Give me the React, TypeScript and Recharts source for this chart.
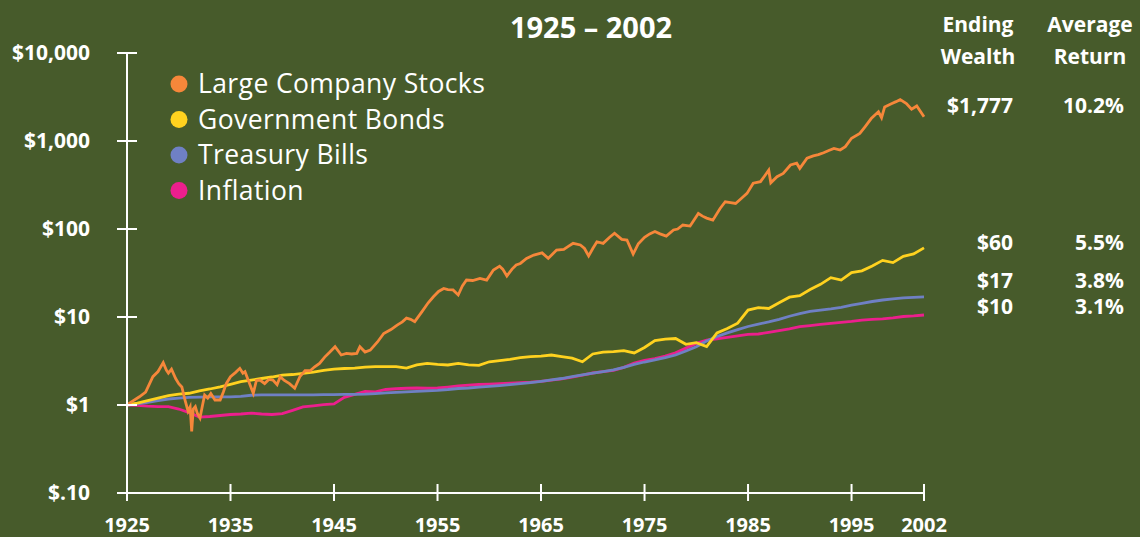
import { LineChart, Line, XAxis, YAxis } from "recharts";

const seriesNames = ["Large Company Stocks", "Government Bonds", "Treasury Bills", "Inflation"];
const seriesColors = ["#f6873a", "#ffd21f", "#6f80c4", "#ec1f8d"];
const endingWealth = ["$1,777", "$60", "$17", "$10"];
const averageReturn = ["10.2%", "5.5%", "3.8%", "3.1%"];

const xTicks = [1925, 1935, 1945, 1955, 1965, 1975, 1985, 1995, 2002];
const yTicks = [0.1, 1, 10, 100, 1000, 10000];
const yTickLabels = ["$.10", "$1", "$10", "$100", "$1,000", "$10,000"];

// stocks at irregular points so the swings survive
const stockYears = [
  1925.0, 1925.5, 1926.2, 1926.8, 1927.5, 1928.0, 1928.5, 1928.8, 1929.0, 1929.3,
  1929.7, 1930.0, 1930.3, 1930.6, 1930.9, 1931.1, 1931.25, 1931.4, 1931.6, 1931.8,
  1932.05, 1932.3, 1932.5, 1932.8, 1933.1, 1933.5, 1934.0, 1934.3, 1934.6, 1935.0,
  1935.5, 1935.9, 1936.2, 1936.4, 1936.8, 1937.2, 1937.5, 1937.85, 1938.3, 1938.7,
  1939.1, 1939.5, 1939.8, 1940.2, 1940.7, 1941.2, 1941.7, 1942.2, 1942.7, 1943.1,
  1943.6, 1944.1, 1944.6, 1945.1, 1945.7, 1946.2, 1946.7, 1947.2, 1947.5, 1948.0,
  1948.5, 1949.2, 1949.8, 1950.5, 1951.1, 1951.6, 1952.0, 1952.4, 1952.8, 1953.5,
  1954.1, 1954.6, 1955.1, 1955.6, 1956.0, 1956.5, 1957.0, 1957.4, 1957.8, 1958.4,
  1959.1, 1959.75, 1960.4, 1961.0, 1961.3, 1961.7, 1962.2, 1962.6, 1963.0, 1963.6,
  1964.3, 1965.1, 1965.7, 1966.5, 1967.2, 1967.6, 1968.1, 1968.8, 1969.2, 1969.6,
  1970.0, 1970.4, 1971.0, 1971.6, 1972.1, 1972.8, 1973.3, 1973.9, 1974.4, 1975.0,
  1975.5, 1976.0, 1976.5, 1977.1, 1977.8, 1978.2, 1978.7, 1979.4, 1980.2, 1980.6,
  1981.0, 1981.6, 1982.3, 1982.8, 1983.3, 1983.8, 1984.4, 1984.9, 1985.5, 1986.2,
  1986.6, 1987.0, 1987.2, 1987.8, 1988.4, 1989.1, 1989.7, 1990.0, 1990.7, 1991.3,
  1991.8, 1992.3, 1992.8, 1993.3, 1993.9, 1994.4, 1995.0, 1995.8, 1996.3, 1996.9,
  1997.6, 1997.9, 1998.2, 1998.9, 1999.3, 1999.7, 2000.3, 2000.8, 2001.3, 2002.0,
];
const stockValues = [
  1.0, 1.1, 1.24, 1.4, 2.1, 2.4, 3.03, 2.5, 2.3, 2.55,
  2.0, 1.75, 1.6, 1.14, 0.85, 0.95, 0.5, 0.9, 0.96, 0.8,
  0.71, 1.0, 1.3, 1.2, 1.35, 1.14, 1.14, 1.4, 1.76, 2.1,
  2.35, 2.61, 2.3, 2.39, 1.8, 1.36, 1.9, 1.92, 1.75, 1.95,
  1.92, 1.7, 2.1, 1.9, 1.75, 1.55, 2.1, 2.45, 2.45, 2.7,
  2.97, 3.5, 4.0, 4.6, 3.7, 3.85, 3.8, 3.86, 4.6, 4.0,
  4.2, 5.2, 6.5, 7.2, 8.1, 8.8, 9.7, 9.4, 8.85, 11.5,
  14.5, 17.0, 19.5, 21.1, 20.5, 20.3, 17.8, 22.5, 26.3, 26.0,
  27.5, 26.3, 34.2, 37.8, 35.0, 29.2, 35.0, 39.0, 40.6, 46.3,
  50.6, 53.5, 46.4, 57.6, 58.7, 63.0, 68.7, 65.8, 60.0, 49.4,
  60.0, 71.6, 68.7, 80.0, 89.5, 76.2, 75.0, 51.9, 68.0, 80.5,
  88.0, 93.5, 88.0, 83.0, 97.5, 100, 111, 108, 150, 140,
  133, 126, 171, 204, 200, 195, 225, 254, 331, 345,
  400, 466, 335, 393, 428, 534, 559, 489, 637, 678,
  700, 735, 780, 822, 790, 863, 1075, 1220, 1450, 1800,
  2150, 1840, 2440, 2670, 2800, 2950, 2670, 2300, 2500, 1890,
];

const years = [
  1925, 1926, 1927, 1928, 1929, 1930, 1931, 1932, 1933, 1934,
  1935, 1936, 1937, 1938, 1939, 1940, 1941, 1942, 1943, 1944,
  1945, 1946, 1947, 1948, 1949, 1950, 1951, 1952, 1953, 1954,
  1955, 1956, 1957, 1958, 1959, 1960, 1961, 1962, 1963, 1964,
  1965, 1966, 1967, 1968, 1969, 1970, 1971, 1972, 1973, 1974,
  1975, 1976, 1977, 1978, 1979, 1980, 1981, 1982, 1983, 1984,
  1985, 1986, 1987, 1988, 1989, 1990, 1991, 1992, 1993, 1994,
  1995, 1996, 1997, 1998, 1999, 2000, 2001, 2002,
];
const bonds = [
  1.0, 1.05, 1.12, 1.2, 1.28, 1.33, 1.36, 1.45, 1.52, 1.61,
  1.72, 1.84, 1.92, 2.0, 2.08, 2.19, 2.22, 2.29, 2.36, 2.48,
  2.55, 2.6, 2.62, 2.7, 2.73, 2.73, 2.73, 2.62, 2.85, 2.97,
  2.9, 2.85, 2.97, 2.85, 2.82, 3.1, 3.2, 3.3, 3.45, 3.55,
  3.6, 3.7, 3.55, 3.4, 3.1, 3.8, 4.0, 4.05, 4.15, 3.9,
  4.5, 5.4, 5.6, 5.7, 4.9, 5.1, 4.6, 6.6, 7.4, 8.5,
  12.0, 12.8, 12.5, 14.5, 16.8, 17.5, 20.5, 23.5, 28.0, 26.3,
  32.0, 33.5, 38.0, 44.0, 41.5, 49.0, 52.0, 61.0,
];
const bills = [
  1.0, 1.03, 1.07, 1.12, 1.17, 1.2, 1.22, 1.23, 1.24, 1.24,
  1.24, 1.25, 1.29, 1.3, 1.3, 1.3, 1.3, 1.3, 1.3, 1.31,
  1.31, 1.32, 1.32, 1.33, 1.35, 1.37, 1.39, 1.41, 1.43, 1.45,
  1.47, 1.5, 1.54, 1.56, 1.6, 1.63, 1.66, 1.7, 1.75, 1.8,
  1.86, 1.93, 2.0, 2.1, 2.2, 2.3, 2.4, 2.5, 2.68, 2.9,
  3.08, 3.25, 3.45, 3.7, 4.1, 4.6, 5.35, 6.0, 6.6, 7.2,
  7.8, 8.3, 8.8, 9.4, 10.2, 10.95, 11.6, 12.0, 12.4, 12.9,
  13.6, 14.3, 15.0, 15.6, 16.1, 16.5, 16.7, 16.9,
];
const inflation = [
  1.0, 0.99, 0.97, 0.96, 0.96, 0.9, 0.82, 0.73, 0.74, 0.76,
  0.78, 0.79, 0.81, 0.79, 0.78, 0.8, 0.87, 0.95, 0.98, 1.01,
  1.03, 1.22, 1.32, 1.43, 1.41, 1.5, 1.53, 1.55, 1.56, 1.55,
  1.56, 1.6, 1.65, 1.68, 1.71, 1.73, 1.75, 1.77, 1.8, 1.82,
  1.86, 1.92, 1.98, 2.07, 2.19, 2.31, 2.39, 2.47, 2.68, 3.0,
  3.21, 3.37, 3.59, 3.91, 4.43, 5.01, 5.45, 5.66, 5.87, 6.11,
  6.34, 6.41, 6.69, 6.99, 7.31, 7.76, 8.0, 8.24, 8.47, 8.7,
  8.92, 9.22, 9.39, 9.54, 9.8, 10.13, 10.29, 10.54,
];

const toPoints = (xs: number[], vs: number[]) => xs.map((year, i) => ({ year, value: vs[i] }));

const stockData = toPoints(stockYears, stockValues);
const bondData = toPoints(years, bonds);
const billData = toPoints(years, bills);
const inflationData = toPoints(years, inflation);

const W = 1140;
const H = 537;
const BG = "#475b2b";
const FONT = "'Open Sans', 'Noto Sans', sans-serif";

function YTick(props: any) {
  const { x, y, payload } = props;
  const label = yTickLabels[yTicks.indexOf(payload.value)];
  return (
    <g>
      <line x1={x - 10} x2={x + 10} y1={y} y2={y} stroke="#fff" strokeWidth={2} />
      <text x={x - 37} y={y + 7} textAnchor="end" fill="#fff" fontFamily={FONT} fontWeight={700} fontSize={21}>
        {label}
      </text>
    </g>
  );
}

function XTick(props: any) {
  const { x, y, payload } = props;
  return (
    <g>
      <line x1={x} x2={x} y1={y - 9} y2={y + 8} stroke="#fff" strokeWidth={2} />
      <text x={x} y={y + 39} textAnchor="middle" fill="#fff" fontFamily={FONT} fontWeight={700} fontSize={20}>
        {payload.value}
      </text>
    </g>
  );
}

export default function App() {
  const rowBaselines = [113, 250, 288, 314];
  return (
    <div style={{ position: "absolute", left: 0, top: 0, width: W, height: H, background: BG, overflow: "hidden" }}>
      <LineChart width={W} height={H} margin={{ top: 53, right: 216, bottom: 0, left: 0 }}>
        <XAxis
          dataKey="year"
          type="number"
          domain={[1925, 2002]}
          ticks={xTicks}
          interval={0}
          height={44}
          tickSize={0}
          tickMargin={0}
          tickLine={false}
          axisLine={{ stroke: "#fff", strokeWidth: 2 }}
          tick={<XTick />}
        />
        <YAxis
          type="number"
          scale="log"
          domain={[0.1, 10000]}
          ticks={yTicks}
          interval={0}
          width={127}
          tickSize={0}
          tickMargin={0}
          tickLine={false}
          axisLine={{ stroke: "#fff", strokeWidth: 2 }}
          tick={<YTick />}
        />
        <Line data={inflationData} dataKey="value" stroke={seriesColors[3]} strokeWidth={2.8} dot={false} isAnimationActive={false} />
        <Line data={billData} dataKey="value" stroke={seriesColors[2]} strokeWidth={2.8} dot={false} isAnimationActive={false} />
        <Line data={bondData} dataKey="value" stroke={seriesColors[1]} strokeWidth={2.8} dot={false} isAnimationActive={false} />
        <Line data={stockData} dataKey="value" stroke={seriesColors[0]} strokeWidth={2.8} dot={false} isAnimationActive={false} />
      </LineChart>

      <svg width={W} height={H} style={{ position: "absolute", left: 0, top: 0, pointerEvents: "none" }}>
        <text x={591} y={38} textAnchor="middle" fill="#fff" fontFamily={FONT} fontWeight={700} fontSize={29}>
          1925 – 2002
        </text>

        {seriesNames.map((name, i) => (
          <g key={name}>
            <circle cx={179} cy={84 + i * 35.5} r={8.5} fill={seriesColors[i]} />
            <text x={198} y={93 + i * 35.5} fill="#fff" fontFamily={FONT} fontSize={26.5} letterSpacing={0.4}>
              {name}
            </text>
          </g>
        ))}

        <g fill="#fff" fontFamily={FONT} fontWeight={700} fontSize={21} textAnchor="middle">
          <text x={978} y={32}>Ending</text>
          <text x={978} y={64}>Wealth</text>
          <text x={1090} y={32}>Average</text>
          <text x={1090} y={64}>Return</text>
        </g>

        <g fill="#fff" fontFamily={FONT} fontWeight={700} fontSize={21} textAnchor="end">
          {endingWealth.map((v, i) => (
            <text key={v} x={1013} y={rowBaselines[i]}>{v}</text>
          ))}
          {averageReturn.map((v, i) => (
            <text key={v} x={1124} y={rowBaselines[i]}>{v}</text>
          ))}
        </g>
      </svg>
    </div>
  );
}
